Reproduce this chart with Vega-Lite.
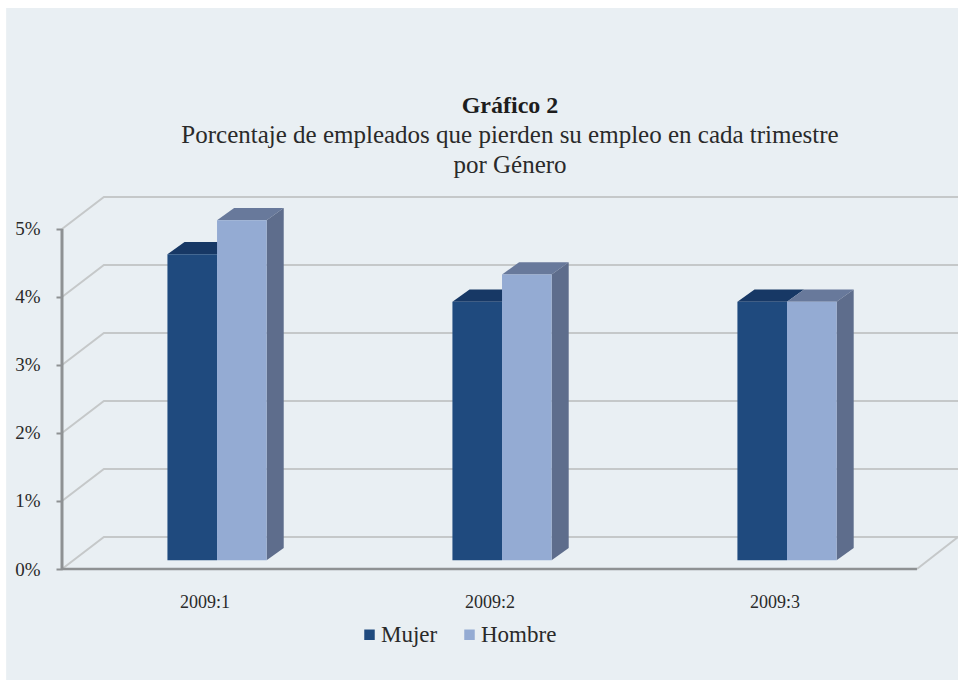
{
"$schema":"https://vega.github.io/schema/vega-lite/v6.json",
"width":896,"height":373,
"autosize":{"type":"none"},
"padding":{"left":62,"top":196,"right":0,"bottom":127},
"background":"#ffffff",
"config":{"view":{"stroke":null},"font":"Liberation Serif"},
"title":{"text":"Gráfico 2","subtitle":["Porcentaje de empleados que pierden su empleo en cada trimestre","por Género"],"anchor":"middle","frame":"group","font":"Liberation Serif","fontSize":24,"fontWeight":"bold","color":"#1d1d1d","subtitleFont":"Liberation Serif","subtitleFontSize":25,"subtitleColor":"#2a2a2a","subtitleLineHeight":30,"subtitlePadding":5,"offset":-170},
"datasets":{
"barras":[
{"periodo":"2009:1","genero":"Mujer","valor":4.5,"x0":0.37,"x1":0.544,"base":0.13,"tope":4.63},
{"periodo":"2009:1","genero":"Hombre","valor":5.0,"x0":0.544,"x1":0.718,"base":0.13,"tope":5.13},
{"periodo":"2009:2","genero":"Mujer","valor":3.8,"x0":1.37,"x1":1.544,"base":0.13,"tope":3.93},
{"periodo":"2009:2","genero":"Hombre","valor":4.2,"x0":1.544,"x1":1.718,"base":0.13,"tope":4.33},
{"periodo":"2009:3","genero":"Mujer","valor":3.8,"x0":2.37,"x1":2.544,"base":0.13,"tope":3.93},
{"periodo":"2009:3","genero":"Hombre","valor":3.8,"x0":2.544,"x1":2.718,"base":0.13,"tope":3.93}
],
"caras":[
{"id":"m1","tipo":"topeM","x":0.37,"y":4.63,"y2":4.63},{"id":"m1","tipo":"topeM","x":0.43,"y":4.81,"y2":4.63},{"id":"m1","tipo":"topeM","x":0.544,"y":4.81,"y2":4.63},{"id":"m1","tipo":"topeM","x":0.604,"y":4.81,"y2":4.81},
{"id":"m2","tipo":"topeM","x":1.37,"y":3.93,"y2":3.93},{"id":"m2","tipo":"topeM","x":1.43,"y":4.11,"y2":3.93},{"id":"m2","tipo":"topeM","x":1.544,"y":4.11,"y2":3.93},{"id":"m2","tipo":"topeM","x":1.604,"y":4.11,"y2":4.11},
{"id":"m3","tipo":"topeM","x":2.37,"y":3.93,"y2":3.93},{"id":"m3","tipo":"topeM","x":2.43,"y":4.11,"y2":3.93},{"id":"m3","tipo":"topeM","x":2.544,"y":4.11,"y2":3.93},{"id":"m3","tipo":"topeM","x":2.604,"y":4.11,"y2":4.11},
{"id":"h1","tipo":"topeH","x":0.544,"y":5.13,"y2":5.13},{"id":"h1","tipo":"topeH","x":0.604,"y":5.31,"y2":5.13},{"id":"h1","tipo":"topeH","x":0.718,"y":5.31,"y2":5.13},{"id":"h1","tipo":"topeH","x":0.778,"y":5.31,"y2":5.31},
{"id":"h2","tipo":"topeH","x":1.544,"y":4.33,"y2":4.33},{"id":"h2","tipo":"topeH","x":1.604,"y":4.51,"y2":4.33},{"id":"h2","tipo":"topeH","x":1.718,"y":4.51,"y2":4.33},{"id":"h2","tipo":"topeH","x":1.778,"y":4.51,"y2":4.51},
{"id":"h3","tipo":"topeH","x":2.544,"y":3.93,"y2":3.93},{"id":"h3","tipo":"topeH","x":2.604,"y":4.11,"y2":3.93},{"id":"h3","tipo":"topeH","x":2.718,"y":4.11,"y2":3.93},{"id":"h3","tipo":"topeH","x":2.778,"y":4.11,"y2":4.11},
{"id":"s1","tipo":"lado","x":0.718,"y":5.13,"y2":0.13},{"id":"s1","tipo":"lado","x":0.778,"y":5.31,"y2":0.31},
{"id":"s2","tipo":"lado","x":1.718,"y":4.33,"y2":0.13},{"id":"s2","tipo":"lado","x":1.778,"y":4.51,"y2":0.31},
{"id":"s3","tipo":"lado","x":2.718,"y":3.93,"y2":0.13},{"id":"s3","tipo":"lado","x":2.778,"y":4.11,"y2":0.31}
],
"reticula":[
{"nivel":0,"orden":1,"x":0,"y":0},{"nivel":0,"orden":2,"x":0.147,"y":0.47},{"nivel":0,"orden":3,"x":3.144,"y":0.47},
{"nivel":1,"orden":1,"x":0,"y":1},{"nivel":1,"orden":2,"x":0.147,"y":1.47},{"nivel":1,"orden":3,"x":3.144,"y":1.47},
{"nivel":2,"orden":1,"x":0,"y":2},{"nivel":2,"orden":2,"x":0.147,"y":2.47},{"nivel":2,"orden":3,"x":3.144,"y":2.47},
{"nivel":3,"orden":1,"x":0,"y":3},{"nivel":3,"orden":2,"x":0.147,"y":3.47},{"nivel":3,"orden":3,"x":3.144,"y":3.47},
{"nivel":4,"orden":1,"x":0,"y":4},{"nivel":4,"orden":2,"x":0.147,"y":4.47},{"nivel":4,"orden":3,"x":3.144,"y":4.47},
{"nivel":5,"orden":1,"x":0,"y":5},{"nivel":5,"orden":2,"x":0.147,"y":5.47},{"nivel":5,"orden":3,"x":3.144,"y":5.47},
{"nivel":6,"orden":1,"x":3,"y":0},{"nivel":6,"orden":2,"x":3.144,"y":0.47}
]
},
"resolve":{"scale":{"color":"independent"}},
"layer":[
{"data":{"values":[{"zona":"fondo"}]},"mark":{"type":"rect","color":"#e9eff3","clip":false},
 "encoding":{"x":{"datum":-0.196,"type":"quantitative","scale":{"domain":[0,3.144],"nice":false,"zero":false}},"x2":{"datum":3.2},"y":{"datum":-1.632,"type":"quantitative","scale":{"domain":[0,5.485],"nice":false,"zero":false}},"y2":{"datum":8.25}}},
{"data":{"name":"reticula"},"mark":{"type":"line","color":"#c5c8c9","strokeWidth":2,"interpolate":"linear"},
 "encoding":{"x":{"field":"x","type":"quantitative","scale":{"domain":[0,3.144],"nice":false,"zero":false},
   "axis":{"title":null,"domain":false,"ticks":false,"grid":false,"values":[0.5,1.5,2.5],"labelExpr":"'2009:' + (datum.value + 0.5)","labelFont":"Liberation Serif","labelFontSize":18,"labelColor":"#2a2a2a","labelPadding":24,"zindex":1}},
  "y":{"field":"y","type":"quantitative","scale":{"domain":[0,5.485],"nice":false,"zero":false},
   "axis":{"title":null,"domain":false,"grid":false,"ticks":true,"tickSize":6,"tickWidth":2,"tickColor":"#8e9193","values":[0,1,2,3,4,5],"labelExpr":"datum.value + '%'","labelFont":"Liberation Serif","labelFontSize":19,"labelColor":"#2a2a2a","labelPadding":16,"zindex":1}},
  "detail":{"field":"nivel"},"order":{"field":"orden"}}},
{"data":{"values":[{"eje":"y"}]},"mark":{"type":"rule","color":"#8e9193","strokeWidth":3},
 "encoding":{"x":{"datum":0,"type":"quantitative"},"y":{"datum":0,"type":"quantitative"},"y2":{"datum":5}}},
{"data":{"values":[{"eje":"x"}]},"mark":{"type":"rule","color":"#8e9193","strokeWidth":2.5},
 "encoding":{"y":{"datum":0,"type":"quantitative"},"x":{"datum":0,"type":"quantitative"},"x2":{"datum":3}}},
{"data":{"name":"caras"},"transform":[{"filter":"datum.tipo === 'topeM'"}],"mark":{"type":"area","orient":"vertical","color":"#173865"},
 "encoding":{"x":{"field":"x","type":"quantitative"},"y":{"field":"y","type":"quantitative","stack":null},"y2":{"field":"y2"},"detail":{"field":"id"}}},
{"data":{"name":"caras"},"transform":[{"filter":"datum.tipo === 'topeH'"}],"mark":{"type":"area","orient":"vertical","color":"#68799b"},
 "encoding":{"x":{"field":"x","type":"quantitative"},"y":{"field":"y","type":"quantitative","stack":null},"y2":{"field":"y2"},"detail":{"field":"id"}}},
{"data":{"name":"caras"},"transform":[{"filter":"datum.tipo === 'lado'"}],"mark":{"type":"area","orient":"vertical","color":"#5e6d8c"},
 "encoding":{"x":{"field":"x","type":"quantitative"},"y":{"field":"y","type":"quantitative","stack":null},"y2":{"field":"y2"},"detail":{"field":"id"}}},
{"data":{"name":"barras"},"mark":{"type":"rect"},
 "encoding":{"x":{"field":"x0","type":"quantitative"},"x2":{"field":"x1"},"y":{"field":"tope","type":"quantitative"},"y2":{"field":"base"},
  "color":{"field":"genero","type":"nominal","scale":{"domain":["Mujer","Hombre"],"range":["#1f4a7e","#94abd3"]},
   "legend":{"title":null,"orient":"none","legendX":296,"legendY":427,"direction":"horizontal","columns":2,"symbolType":"square","symbolSize":110,"symbolStrokeWidth":0,"labelFont":"Liberation Serif","labelFontSize":23,"labelColor":"#2a2a2a","labelOffset":0,"columnPadding":20}}}}
]
}
